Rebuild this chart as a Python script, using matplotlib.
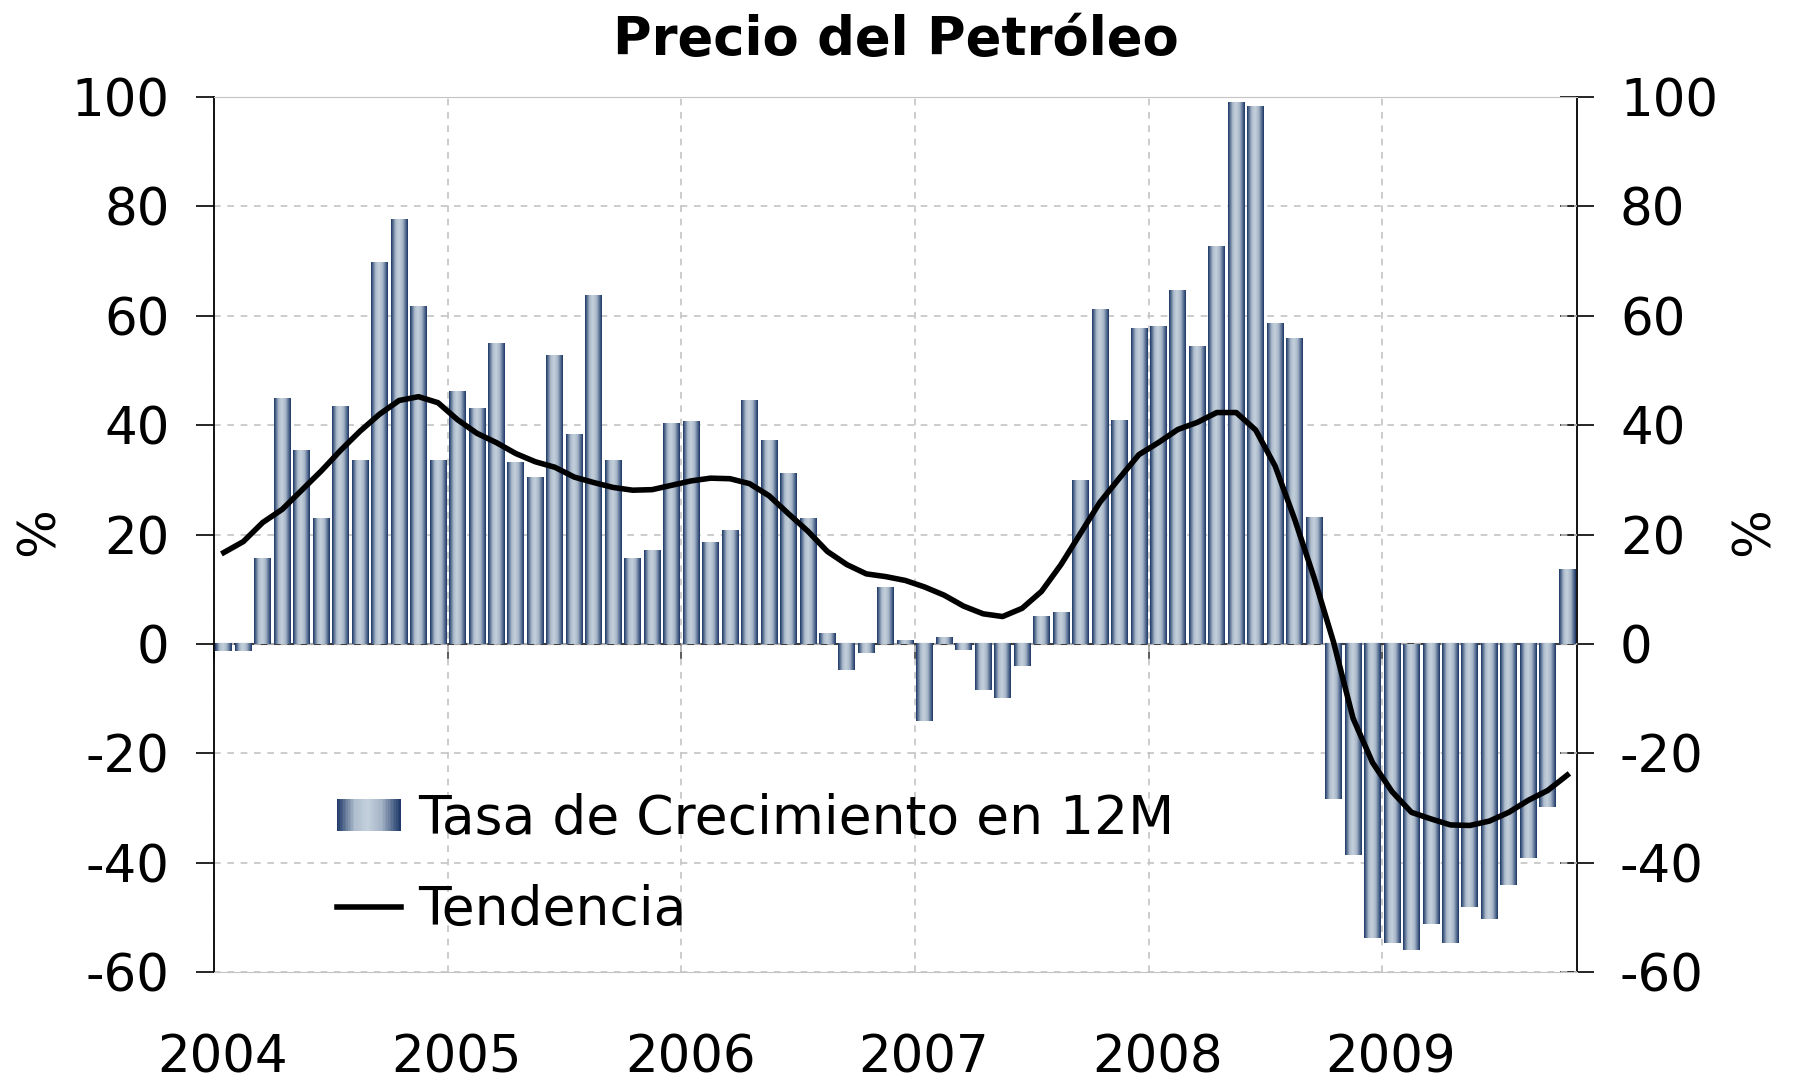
import numpy as np
import matplotlib.pyplot as plt
from matplotlib.colors import LinearSegmentedColormap
from matplotlib.legend_handler import HandlerBase
from matplotlib.patches import Rectangle

plt.rcParams['font.family'] = 'DejaVu Sans'
plt.rcParams['axes.unicode_minus'] = False

# monthly data, Jan 2004 .. Oct 2009
years = ['2004', '2005', '2006', '2007', '2008', '2009']
growth = [
    -1.3, -1.3, 15.7, 44.9, 35.3, 22.9, 43.4, 33.5, 69.8, 77.7, 61.7, 33.5,    # 2004
    46.2, 43.0, 54.9, 33.1, 30.5, 52.8, 38.3, 63.7, 33.5, 15.7, 17.1, 40.3,    # 2005
    40.7, 18.6, 20.8, 44.5, 37.2, 31.1, 22.9, 2.0, -4.8, -1.7, 10.3, 0.6,      # 2006
    -14.1, 1.1, -1.2, -8.5, -9.9, -4.1, 5.1, 5.8, 29.9, 61.1, 40.8, 57.6,      # 2007
    58.1, 64.6, 54.4, 72.6, 99.0, 98.2, 58.6, 55.9, 23.2, -28.4, -38.6, -53.8, # 2008
    -54.7, -55.9, -51.3, -54.7, -48.2, -50.3, -44.1, -39.2, -29.9, 13.7,       # 2009
]
trend = [
    16.7, 18.7, 22.2, 24.6, 28.1, 31.6, 35.4, 38.9, 42.0, 44.5, 45.2, 44.1,
    41.0, 38.5, 36.8, 34.8, 33.3, 32.3, 30.5, 29.5, 28.6, 28.1, 28.2, 29.0,
    29.8, 30.3, 30.2, 29.3, 27.1, 23.8, 20.6, 16.9, 14.5, 12.8, 12.3, 11.6,
    10.4, 8.9, 6.9, 5.5, 5.0, 6.5, 9.6, 14.5, 20.2, 25.9, 30.3, 34.6,
    36.8, 39.2, 40.5, 42.3, 42.3, 39.1, 32.5, 22.8, 12.1, 0.3, -13.6, -21.7,
    -27.0, -30.8, -32.0, -33.1, -33.2, -32.4, -30.8, -28.6, -26.8, -24.0,
]
labels = ['Tasa de Crecimiento en 12M', 'Tendencia']

# cylinder-like shading for the bars
bar_cmap = LinearSegmentedColormap.from_list('cyl', [
    (0.0, '#1b3666'), (0.1, '#52688c'), (0.28, '#afbdcd'), (0.48, '#c4d0dc'),
    (0.7, '#a5b4c6'), (0.87, '#576d91'), (1.0, '#1b3666')])
grad = np.linspace(0, 1, 64).reshape(1, -1)


class GradientHandler(HandlerBase):
    def create_artists(self, legend, orig_handle, xdescent, ydescent,
                       width, height, fontsize, trans):
        n = 40
        arts = []
        for k in range(n):
            r = Rectangle((-xdescent + width * k / n, -ydescent), width / n * 1.05, height,
                          facecolor=bar_cmap((k + 0.5) / n), edgecolor='none', transform=trans)
            arts.append(r)
        return arts


fig = plt.figure(figsize=(17.93, 10.81), dpi=100)
ax = fig.add_axes([0.1194, 0.1008, 0.7601, 0.8095])

x = np.arange(len(growth)) + 0.5
bars = ax.bar(x, growth, width=0.86, color='none', edgecolor='none', zorder=2)
for b in bars:
    x0, y0 = b.get_x(), b.get_y()
    w, h = b.get_width(), b.get_height()
    ax.imshow(grad, cmap=bar_cmap, extent=[x0, x0 + w, y0, y0 + h],
              aspect='auto', zorder=2, interpolation='bilinear')

line, = ax.plot(x, trend, color='black', lw=4, zorder=3, solid_joinstyle='round')

ax.set_xlim(0, len(growth))
ax.set_ylim(-60, 100)
ax.set_aspect('auto')

year_starts = np.arange(len(years)) * 12
ax.set_xticks(year_starts)
ax.set_xticklabels([])
ax.set_xticks(year_starts + 0.45, minor=True)
ax.set_xticklabels(years, minor=True)
ax.tick_params(axis='x', which='both', length=0)
ax.tick_params(axis='x', which='minor', pad=44, labelsize=37)

ax.set_yticks(range(-60, 101, 20))
ax.tick_params(axis='y', direction='out', length=13, width=1.2, pad=19, labelsize=37)

ax.grid(True, which='major', color='#c4c4c4', linestyle=(0, (4, 4)), lw=1.2)
ax.set_axisbelow(True)

ax.spines['left'].set_linewidth(1.3)
ax.spines['right'].set_visible(False)
ax.spines['top'].set_color('#c4c4c4')
ax.spines['bottom'].set_color('#c4c4c4')

# right axis
sy = ax.secondary_yaxis('right')
sy.set_yticks(range(-60, 101, 20))
sy.tick_params(direction='inout', length=24, width=1.2, pad=19, labelsize=37)
sy.spines['right'].set_linewidth(1.3)

# zero line with year ticks
sx = ax.secondary_xaxis(60 / 160)
sx.set_xticks(year_starts)
sx.tick_params(direction='out', length=11, width=1.2, color='#404040', labelbottom=False, labeltop=False)
for s in sx.spines.values():
    s.set_color('#404040')
    s.set_linewidth(1.5)

ax.set_title('Precio del Petróleo', fontsize=38, fontweight='bold', pad=30)
fig.text(40 / 1793, 1 - 532 / 1081, '%', rotation=90, fontsize=37, ha='center', va='center')
fig.text(1755 / 1793, 1 - 532 / 1081, '%', rotation=90, fontsize=37, ha='center', va='center')

proxy = Rectangle((0, 0), 1, 1)
ax.legend([proxy, line], labels, handler_map={proxy: GradientHandler()},
          loc='center left', bbox_to_anchor=(0.09, 0.123), frameon=False, fontsize=38.5,
          handlelength=1.2, handleheight=0.55, handletextpad=0.33, labelspacing=0.72,
          borderpad=0, borderaxespad=0)

fig.savefig('out.png', dpi=100)
